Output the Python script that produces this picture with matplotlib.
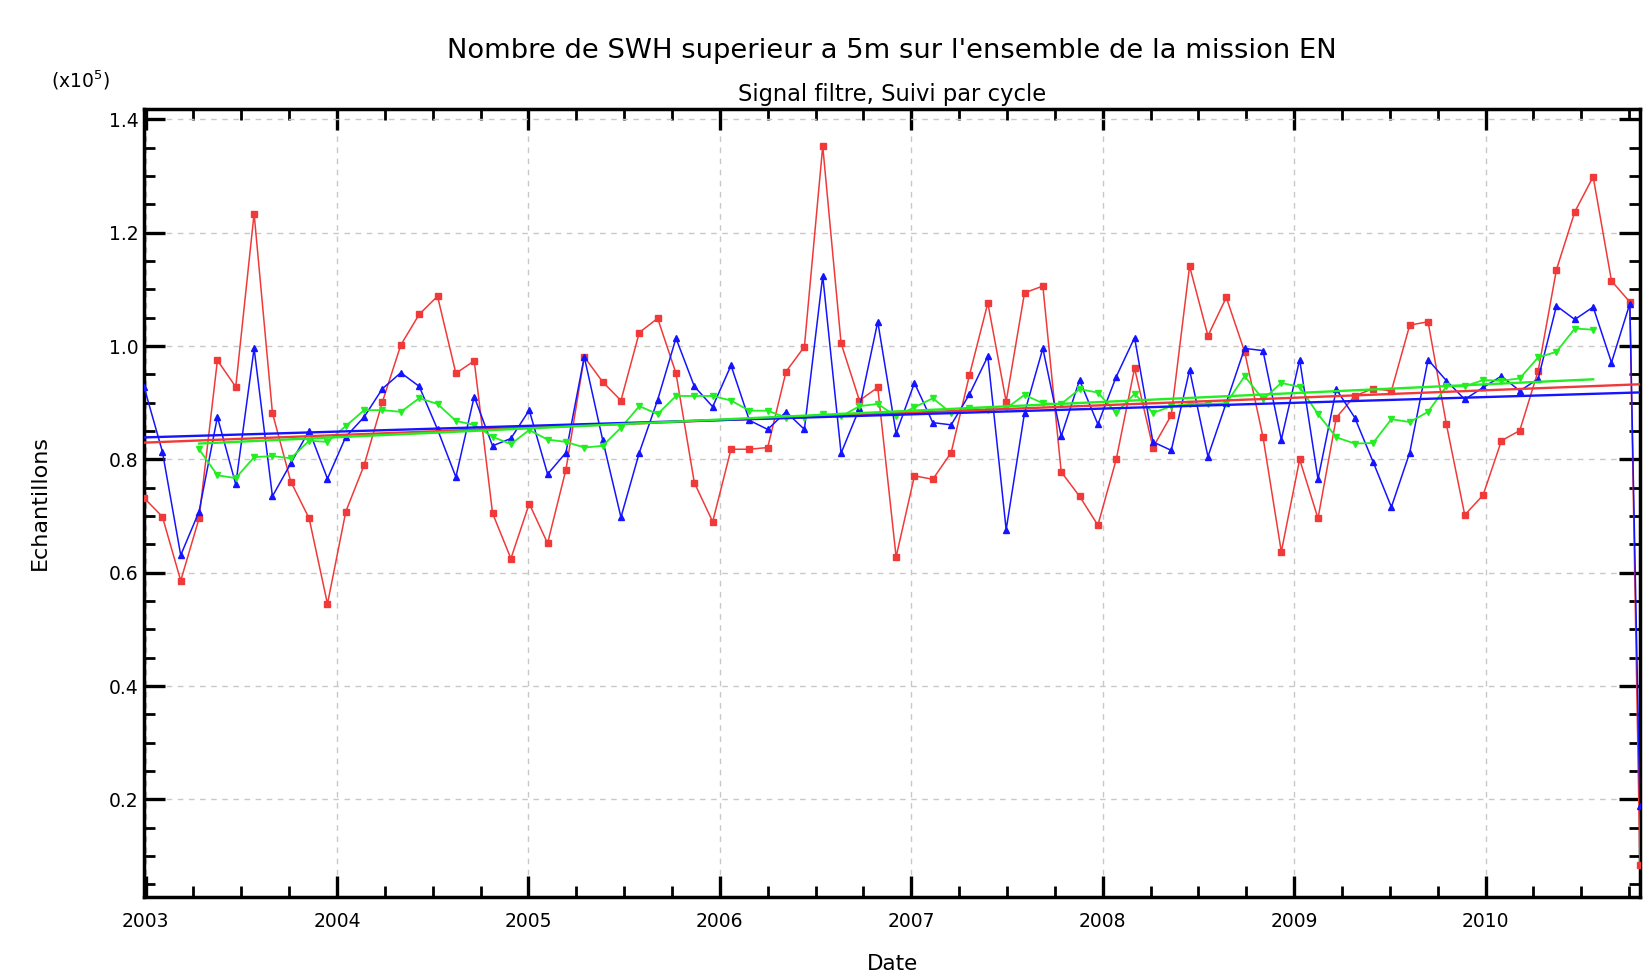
import numpy as np
import matplotlib
matplotlib.use("Agg")
import matplotlib.pyplot as plt
from matplotlib.ticker import MultipleLocator, FormatStrFormatter

plt.rcParams['font.family'] = ['DejaVu Sans']

# ---- data (x10^5 samples), one value per 35-day cycle ----
start_year = 2002.992
cycle_len_years = 35 / 365.25
cycle_index = list(range(82)) + [81.55]  # last value is a partial cycle

red_vals = [0.732, 0.699, 0.586, 0.696, 0.975, 0.928, 1.234, 0.882, 0.761, 0.696,
            0.545, 0.708, 0.790, 0.902, 1.002, 1.056, 1.088, 0.952, 0.974, 0.705,
            0.625, 0.722, 0.652, 0.782, 0.981, 0.937, 0.904, 1.024, 1.049, 0.952,
            0.759, 0.690, 0.818, 0.818, 0.821, 0.955, 0.999, 1.353, 1.005, 0.904,
            0.927, 0.628, 0.771, 0.765, 0.812, 0.949, 1.076, 0.902, 1.094, 1.106,
            0.778, 0.735, 0.684, 0.800, 0.961, 0.821, 0.878, 1.141, 1.018, 1.086,
            0.990, 0.840, 0.637, 0.800, 0.696, 0.874, 0.912, 0.925, 0.921, 1.037,
            1.043, 0.862, 0.702, 0.737, 0.833, 0.851, 0.956, 1.135, 1.237, 1.299,
            1.115, 1.078, 0.085]

blue_vals = [0.928, 0.814, 0.631, 0.708, 0.875, 0.756, 0.996, 0.735, 0.793, 0.851,
             0.766, 0.840, 0.875, 0.925, 0.953, 0.929, 0.853, 0.769, 0.911, 0.824,
             0.837, 0.887, 0.774, 0.812, 0.981, 0.835, 0.698, 0.812, 0.905, 1.014,
             0.929, 0.893, 0.966, 0.869, 0.853, 0.884, 0.853, 1.124, 0.811, 0.890,
             1.043, 0.846, 0.935, 0.865, 0.861, 0.915, 0.982, 0.676, 0.882, 0.996,
             0.841, 0.940, 0.862, 0.946, 1.015, 0.831, 0.816, 0.958, 0.805, 0.900,
             0.996, 0.992, 0.835, 0.976, 0.765, 0.924, 0.874, 0.796, 0.716, 0.812,
             0.976, 0.939, 0.906, 0.927, 0.947, 0.921, 0.942, 1.071, 1.047, 1.069,
             0.971, 1.075, 0.188]

green_first_cycle = 3
green_vals = [0.818, 0.772, 0.767, 0.804, 0.806, 0.802, 0.833, 0.831, 0.859, 0.887,
              0.887, 0.884, 0.908, 0.898, 0.868, 0.861, 0.840, 0.827, 0.852, 0.835,
              0.831, 0.821, 0.824, 0.856, 0.894, 0.880, 0.912, 0.912, 0.912, 0.904,
              0.886, 0.886, 0.874, 0.874, 0.880, 0.876, 0.894, 0.898, 0.876, 0.892,
              0.908, 0.882, 0.890, 0.887, 0.890, 0.914, 0.899, 0.898, 0.924, 0.918,
              0.882, 0.916, 0.882, 0.894, 0.898, 0.898, 0.899, 0.947, 0.906, 0.935,
              0.928, 0.880, 0.839, 0.828, 0.829, 0.871, 0.866, 0.884, 0.929, 0.929,
              0.940, 0.939, 0.943, 0.980, 0.990, 1.031, 1.029]

year_ticks = [2003, 2004, 2005, 2006, 2007, 2008, 2009, 2010]
y_ticks = [0.2, 0.4, 0.6, 0.8, 1.0, 1.2, 1.4]

# ---- derived x coordinates ----
t_all = start_year + np.array(cycle_index) * cycle_len_years
t_green = t_all[green_first_cycle:green_first_cycle + len(green_vals)]

RED = '#f03a3a'
BLUE = '#1414ff'
GREEN = '#22ee22'

fig = plt.figure(figsize=(16.48, 9.73), dpi=100)
ax = fig.add_axes([0.0874, 0.0786, 0.9077, 0.8091])

ax.plot(t_all, red_vals, color=RED, lw=1.1, marker='s', ms=4.8, mec=RED, mfc=RED, zorder=3)
ax.plot(t_all, blue_vals, color=BLUE, lw=1.1, marker='^', ms=4.2, mec=BLUE, mfc=BLUE, zorder=4)
ax.plot(t_green, green_vals, color=GREEN, lw=1.3, marker='v', ms=4.0, mec=GREEN, mfc=GREEN, zorder=5)

# linear trends
for tt, vv, col in [(t_all, red_vals, RED), (t_all, blue_vals, BLUE), (t_green, green_vals, GREEN)]:
    p = np.polyfit(tt, vv, 1)
    xs = np.array([tt[0], tt[-1]])
    ax.plot(xs, np.polyval(p, xs), color=col, lw=1.7, zorder=6)

ax.set_xlim(t_all[0], t_all[-1])
ax.set_ylim(0.0286, 1.418)

ax.set_xticks(year_ticks)
ax.set_xticklabels([str(y) for y in year_ticks])
ax.xaxis.set_minor_locator(MultipleLocator(0.25))
ax.set_yticks(y_ticks)
ax.yaxis.set_major_formatter(FormatStrFormatter('%.1f'))
ax.yaxis.set_minor_locator(MultipleLocator(0.05))

ax.tick_params(which='both', direction='in', top=True, right=True, labelsize=13.5, color='black')
ax.tick_params(which='major', length=15, width=2.4)
ax.tick_params(which='minor', length=8, width=2.0)
ax.tick_params(axis='x', which='major', pad=11)
ax.tick_params(axis='y', which='major', pad=4)
for s in ax.spines.values():
    s.set_linewidth(2.5)

ax.grid(True, which='major', color='#c8c8c8', linestyle=(0, (4, 4)), linewidth=1.0)
ax.set_axisbelow(True)

fig.text(0.5413, 0.948, "Nombre de SWH superieur a 5m sur l'ensemble de la mission EN",
         ha='center', va='center', fontsize=19.7)
fig.text(0.5413, 0.903, "Signal filtre, Suivi par cycle", ha='center', va='center', fontsize=16.3)
fig.text(0.031, 0.918, "(x10$^5$)", ha='left', va='center', fontsize=13.5)
fig.text(0.0243, 0.484, "Echantillons", ha='center', va='center', rotation=90, fontsize=16)
fig.text(0.5413, 0.0093, "Date", ha='center', va='center', fontsize=15.5)

fig.savefig('out.png', dpi=100)
